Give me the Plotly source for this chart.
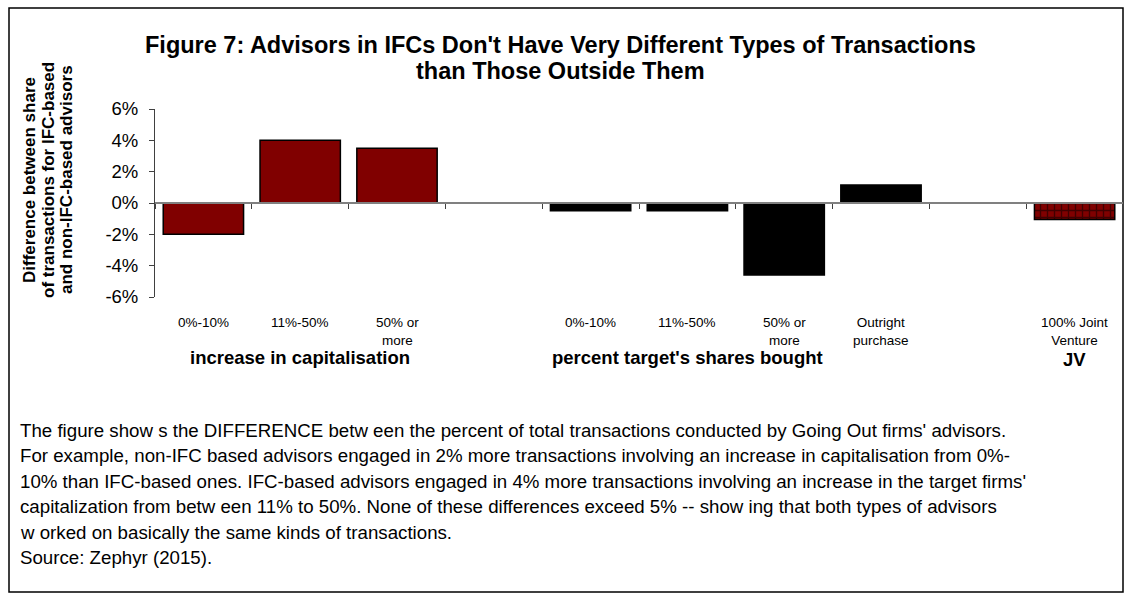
import plotly.graph_objects as go

# ---------------- data ----------------
cap_labels = ["0%-10%", "11%-50%", "50% or<br>more"]
cap_values = [-2.0, 4.0, 3.5]

shares_labels = ["0%-10%", "11%-50%", "50% or<br>more", "Outright<br>purchase"]
shares_values = [-0.5, -0.5, -4.6, 1.15]

jv_labels = ["100% Joint<br>Venture"]
jv_values = [-1.05]

group_titles = ["increase in capitalisation", "percent target's shares bought", "JV"]

y_ticks = [-6, -4, -2, 0, 2, 4, 6]

title_lines = ["Figure 7: Advisors in IFCs Don't Have Very Different Types of Transactions",
               "than Those Outside Them"]
ytitle_lines = ["Difference between share", "of transactions for IFC-based", "and non-IFC-based advisors"]
note_lines = [
    "The figure show s the DIFFERENCE betw een the percent of total transactions conducted by Going Out firms' advisors.",
    "For example, non-IFC based advisors engaged in 2% more transactions involving an increase in capitalisation from 0%-",
    "10% than IFC-based ones. IFC-based advisors engaged in 4% more transactions involving an increase in the target firms'",
    "capitalization from betw een 11% to 50%. None of these differences exceed 5% -- show ing that both types of advisors",
    "w orked on basically the same kinds of transactions.",
    "Source: Zephyr (2015).",
]

# unique category keys
cap_keys = ["cap%d" % i for i in range(len(cap_labels))]
sh_keys = ["sh%d" % i for i in range(len(shares_labels))]
jv_keys = ["jv%d" % i for i in range(len(jv_labels))]
categories = cap_keys + ["gap1"] + sh_keys + ["gap2"] + jv_keys

# ---------------- layout geometry (pixels) ----------------
W, H = 1130, 601
L, R, T, B = 155, 1123, 109, 297

def px(x):
    return (x - L) / (R - L)

def py(y):
    return (B - y) / (B - T)

FONT = "Liberation Sans, Arial, sans-serif"
MAROON = "#800000"

fig = go.Figure()
fig.add_trace(go.Bar(x=cap_keys, y=cap_values, marker=dict(color=MAROON, line=dict(color="black", width=1.5)),
                     hoverinfo="skip"))
fig.add_trace(go.Bar(x=sh_keys, y=shares_values, marker=dict(color="black", line=dict(color="black", width=1.5)),
                     hoverinfo="skip"))
fig.add_trace(go.Bar(x=jv_keys, y=jv_values,
                     marker=dict(color=MAROON, line=dict(color="black", width=1.5),
                                 pattern=dict(shape="+", fgcolor="black", bgcolor=MAROON, size=7, solidity=0.35)),
                     hoverinfo="skip"))

annotations = []
# title
for i, t in enumerate(title_lines):
    annotations.append(dict(text="<b>%s</b>" % t, x=px(560), y=py([45, 71][i]), xref="paper", yref="paper",
                            xanchor="center", yanchor="middle", showarrow=False,
                            font=dict(family=FONT, size=23.5, color="black")))
# y axis title lines
for i, t in enumerate(ytitle_lines):
    annotations.append(dict(text="<b>%s</b>" % t, x=px([29, 48, 66][i]), y=py(180), xref="paper", yref="paper",
                            xanchor="center", yanchor="middle", textangle=-90, showarrow=False,
                            font=dict(family=FONT, size=17, color="black")))
# category labels
for k, lab in zip(cap_keys + sh_keys + jv_keys, cap_labels + shares_labels + jv_labels):
    annotations.append(dict(text=lab, x=k, y=py(313), xref="x", yref="paper", xanchor="center", yanchor="top",
                            showarrow=False, font=dict(family=FONT, size=13.5, color="black")))
# group titles
for k, g, yy in zip([cap_keys[1], sh_keys[1], jv_keys[0]], group_titles, [357, 357, 359]):
    annotations.append(dict(text="<b>%s</b>" % g, x=k, y=py(yy), xref="x", yref="paper", xanchor="center",
                            yanchor="middle", showarrow=False, font=dict(family=FONT, size=18.5, color="black")))
# note text
for i, t in enumerate(note_lines):
    annotations.append(dict(text=t, x=px(18), y=py(430 + i * 25.5), xref="paper", yref="paper",
                            xanchor="left", yanchor="middle", showarrow=False,
                            font=dict(family=FONT, size=18.7, color="black")))

fig.update_layout(
    width=W, height=H,
    margin=dict(l=L, r=W - R, t=T, b=H - B),
    paper_bgcolor="white", plot_bgcolor="white",
    showlegend=False,
    barmode="overlay",
    bargap=0.17,
    annotations=annotations,
    shapes=[dict(type="rect", xref="paper", yref="paper", x0=px(9), x1=px(1123), y0=py(8), y1=py(592),
                 line=dict(color="black", width=1.5), layer="below")],
    xaxis=dict(type="category", categoryorder="array", categoryarray=categories,
               range=[-0.5, len(categories) - 0.5], anchor="free", position=0.5,
               showline=True, linecolor="#808080", linewidth=1.5,
               ticks="outside", tickson="boundaries", ticklen=5, tickcolor="#404040", tickwidth=1,
               showticklabels=False, showgrid=False, zeroline=False, fixedrange=True),
    yaxis=dict(range=[-6, 6], tickvals=y_ticks, ticktext=["%d%%" % v for v in y_ticks],
               showline=True, linecolor="#404040", linewidth=1, ticks="outside", ticklen=5,
               tickcolor="#404040", showgrid=False, zeroline=False, ticklabelstandoff=7,
               tickfont=dict(family=FONT, size=18.5, color="black"), fixedrange=True),
)

fig.write_html("out.html", config={"displayModeBar": False},
               post_script="document.body.style.margin='0px';")
